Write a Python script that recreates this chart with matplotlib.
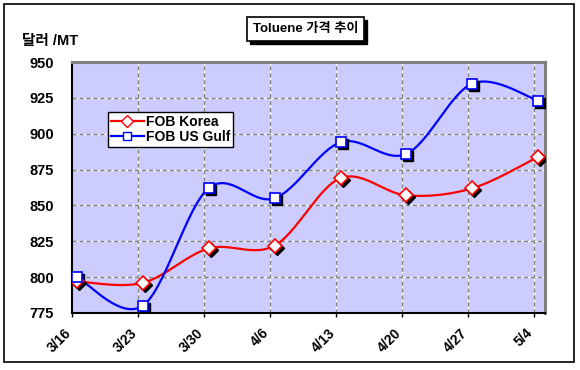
import numpy as np
import matplotlib
matplotlib.use("Agg")
from matplotlib import pyplot as plt
from matplotlib import transforms
from matplotlib.patches import Rectangle
from matplotlib.lines import Line2D

plt.rcParams['font.family'] = ['Liberation Sans', 'Noto Sans CJK KR', 'DejaVu Sans']
plt.rcParams['font.weight'] = 'bold'

# data
weeks = ['3/16', '3/23', '3/30', '4/6', '4/13', '4/20', '4/27', '5/4']
fob_korea = [797, 796, 820, 822, 869, 857, 862, 884]
fob_usgulf = [800, 780, 862, 855, 894, 886, 935, 923]
y_ticks = [775, 800, 825, 850, 875, 900, 925, 950]

days = np.arange(len(weeks)) * 7.0


def smooth(x, y, n=30):
    # excel-like smoothed line (catmull-rom bezier through the points)
    x = np.asarray(x, float)
    y = np.asarray(y, float)
    px = np.concatenate([[x[0]], x, [x[-1]]])
    py = np.concatenate([[y[0]], y, [y[-1]]])
    xs, ys = [], []
    t = np.linspace(0, 1, n)
    for i in range(1, len(px) - 2):
        p0 = np.array([px[i], py[i]])
        p3 = np.array([px[i + 1], py[i + 1]])
        c1 = p0 + (np.array([px[i + 1], py[i + 1]]) - np.array([px[i - 1], py[i - 1]])) / 6
        c2 = p3 - (np.array([px[i + 2], py[i + 2]]) - np.array([px[i], py[i]])) / 6
        b = ((1 - t) ** 3)[:, None] * p0 + (3 * (1 - t) ** 2 * t)[:, None] * c1 \
            + (3 * (1 - t) * t ** 2)[:, None] * c2 + (t ** 3)[:, None] * p3
        xs.extend(b[:, 0])
        ys.extend(b[:, 1])
    return xs, ys


fig = plt.figure(figsize=(5.8, 3.7), dpi=100)
fig.patch.set_facecolor('white')

# outer frame
fig.add_artist(Rectangle((4 / 580, 1 - 362 / 370), 570 / 580, 358 / 370,
                         transform=fig.transFigure, fill=False, edgecolor='black', lw=1.2))

ax = fig.add_axes([72 / 580, 1 - 313 / 370, 473 / 580, 251 / 370])
ax.set_facecolor('#CCCCFF')

grid_x = days - 0.5
ax.set_xlim(-0.5, 49.7)
ax.set_ylim(775, 950)

for g in grid_x[1:]:
    ax.axvline(g, color='white', lw=1, zorder=1)
    ax.axvline(g, color='#808080', lw=1, dashes=(3, 2), zorder=1)
for g in y_ticks[1:-1]:
    ax.axhline(g, color='white', lw=1, zorder=1)
    ax.axhline(g, color='#808080', lw=1, dashes=(3, 2), zorder=1)

# lines
for vals, col, mk in [(fob_korea, 'red', 'D'), (fob_usgulf, 'blue', 's')]:
    sx, sy = smooth(days, vals)
    ax.plot(sx, sy, color=col, lw=1.6, zorder=3)
    shadow = transforms.offset_copy(ax.transData, fig=fig, x=2, y=-2, units='dots')
    ax.plot(days, vals, linestyle='none', marker=mk, ms=7,
            color='black', transform=shadow, zorder=4)
    ax.plot(days, vals, linestyle='none', marker=mk, ms=7,
            markerfacecolor='white', markeredgecolor=col, markeredgewidth=1.2, zorder=5)

ax.set_xticks(grid_x)
ax.set_xticklabels([])
ax.set_yticks(y_ticks)
ax.set_yticklabels([str(v) for v in y_ticks], fontsize=10.5, fontweight='bold')
ax.tick_params(axis='x', length=3, width=1)
ax.tick_params(axis='y', length=0, pad=13)

# rotated week labels, hung just left of each gridline
lab_off = transforms.offset_copy(ax.get_xaxis_transform(), fig=fig, x=-8, y=-13, units='dots')
for g, w in zip(grid_x, weeks):
    ax.text(g, 0, w, transform=lab_off, rotation=45, ha='right', va='top',
            rotation_mode='anchor', fontsize=10, fontweight='bold', clip_on=False)

for s in ['top', 'right']:
    ax.spines[s].set_color('#808080')
    ax.spines[s].set_linewidth(2.2)
for s in ['left', 'bottom']:
    ax.spines[s].set_color('black')
    ax.spines[s].set_linewidth(1.5)

# legend
handles = [Line2D([], [], color='red', lw=1.6, marker='D', ms=6,
                  markerfacecolor='white', markeredgecolor='red'),
           Line2D([], [], color='blue', lw=1.6, marker='s', ms=6,
                  markerfacecolor='white', markeredgecolor='blue')]
leg = fig.legend(handles, ['FOB Korea', 'FOB US Gulf'], loc='upper left',
                 bbox_to_anchor=(108 / 580, 1 - 112 / 370), fontsize=10,
                 frameon=True, fancybox=False, framealpha=1, edgecolor='black',
                 borderpad=0.2, labelspacing=0.1, handlelength=2.4,
                 handletextpad=0.1, borderaxespad=0)
leg.get_frame().set_linewidth(1)
for t in leg.get_texts():
    t.set_fontweight('bold')

# title box with shadow
fig.add_artist(Rectangle((250 / 580, 1 - 44 / 370), 117 / 580, 24 / 370,
                         transform=fig.transFigure, facecolor='black', edgecolor='black'))
fig.add_artist(Rectangle((247 / 580, 1 - 41 / 370), 117 / 580, 24 / 370,
                         transform=fig.transFigure, facecolor='white', edgecolor='black', lw=1.2))
fig.text(305.5 / 580, 1 - 29 / 370, 'Toluene 가격 추이', ha='center', va='center',
         fontsize=9.5, fontweight='bold')

fig.text(22 / 580, 1 - 41 / 370, '달러 /MT', ha='left', va='center',
         fontsize=10.5, fontweight='bold')

fig.savefig('out.png', dpi=100)
